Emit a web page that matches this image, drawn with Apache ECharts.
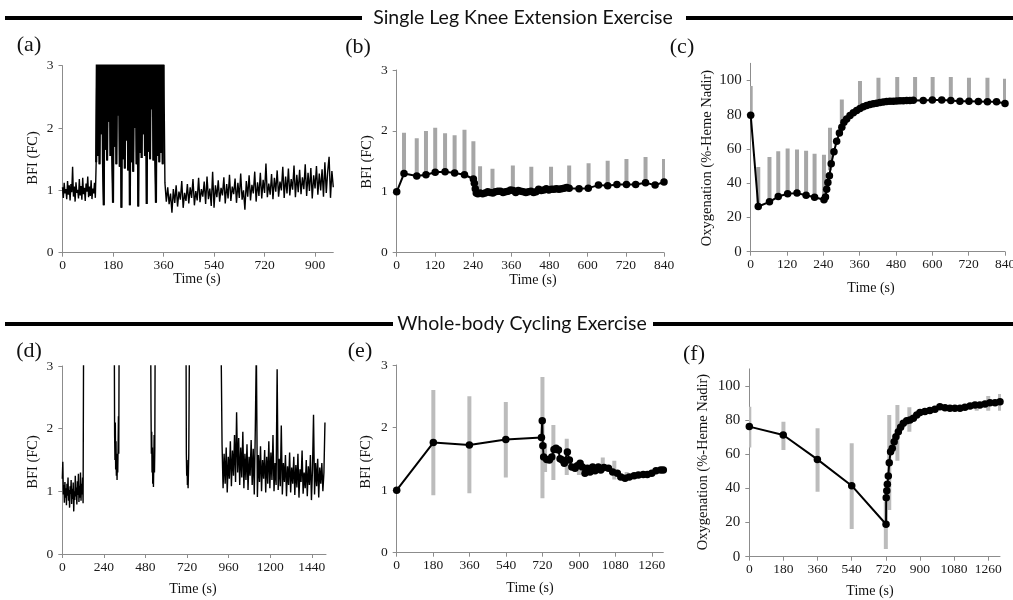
<!DOCTYPE html>
<html>
<head>
<meta charset="utf-8">
<script src="https://cdn.jsdelivr.net/npm/echarts@6/dist/echarts.min.js"></script>
<style>
  html, body { margin: 0; background: #fff; }
  #chart { width: 1013px; height: 600px; }
</style>
</head>
<body>
<div id="chart"></div>
<script>
// ---- tick labels ----
var ticksA = [0, 180, 360, 540, 720, 900];
var ticksB = [0, 120, 240, 360, 480, 600, 720, 840];
var ticksD = [0, 240, 480, 720, 960, 1200, 1440];
var ticksE = [0, 180, 360, 540, 720, 900, 1080, 1260];
var ticksBfi = [0, 1, 2, 3];
var ticksOxy = [0, 20, 40, 60, 80, 100];

// ---- (a) knee extension, raw BFI trace (sampled every few s) ----
var aRestStart = 0, aRestStep = 3;
var aRest = [1.05, 0.88, 1.12, 0.95, 1.02, 0.86, 1.15, 0.93, 1.08, 0.84,
  1.10, 0.97, 1.38, 0.90, 1.06, 0.82, 1.13, 0.96, 1.01, 0.87,
  1.18, 0.92, 1.07, 0.85, 1.20, 0.94, 1.04, 0.83, 1.11, 0.98,
  1.22, 0.89, 1.06, 0.91, 1.16, 0.86, 1.03, 0.95, 1.12, 0.88];
var aExStart = 120, aExStep = 3;
var aEx = [1.45, 3.5, 1.55, 3.5, 1.42, 3.5, 1.9, 3.5, 1.5, 0.76,
  3.5, 1.65, 3.5, 1.48, 3.5, 2.1, 3.5, 1.55, 3.5, 1.6,
  0.8, 3.5, 1.7, 3.5, 1.42, 3.5, 2.2, 3.5, 1.38, 3.5,
  0.72, 3.5, 1.5, 3.5, 1.35, 3.5, 1.8, 3.5, 1.32, 3.5,
  0.76, 3.5, 1.45, 3.5, 1.3, 3.5, 2.0, 3.5, 1.42, 3.5,
  0.74, 3.5, 1.6, 3.5, 1.52, 3.5, 1.9, 3.5, 1.55, 3.5,
  0.78, 3.5, 1.62, 3.5, 1.5, 3.5, 2.3, 3.5, 1.48, 3.5,
  1.7, 0.8, 3.5, 1.55, 3.5, 1.45, 3.5, 1.6, 3.5, 1.42,
  3.5];
var aRecStart = 365, aRecStep = 5;
var aRec = [1.12, 0.82, 1.05, 0.78, 0.95, 0.64, 1.02, 0.80,
  1.08, 0.74, 0.98, 0.85, 1.15, 0.72, 0.96, 0.83, 1.10, 0.79,
  1.05, 0.88, 1.18, 0.76, 0.99, 0.84, 1.20, 0.81, 1.02, 0.90,
  1.14, 0.78, 1.22, 0.86, 1.03, 0.75, 1.30, 0.72, 1.08, 0.89,
  1.16, 0.82, 1.04, 0.92, 1.21, 0.79, 1.10, 0.87, 1.25, 0.83,
  1.06, 0.94, 1.19, 0.80, 1.12, 0.88, 1.27, 0.85, 1.00, 0.69,
  1.15, 0.90, 1.24, 0.84, 1.09, 0.95, 1.30, 0.82, 1.13, 0.91,
  1.28, 0.87, 1.17, 0.96, 1.43, 0.89, 1.11, 0.93, 1.26, 0.86,
  1.20, 0.98, 1.32, 0.90, 1.14, 1.00, 1.38, 0.88, 1.22, 0.95,
  1.35, 0.92, 1.18, 1.01, 1.40, 0.89, 1.25, 0.97, 1.33, 0.94,
  1.21, 1.02, 1.42, 0.91, 1.28, 0.99, 1.36, 0.87, 1.24, 1.03,
  1.39, 0.93, 1.27, 1.00, 1.34, 0.90, 1.45, 0.96, 1.30, 1.54,
  0.88, 1.31, 1.05];

// ---- (b) knee extension, mean BFI ----
var bTime = [0, 23, 63, 92, 121, 152, 182, 213, 241, 244, 247, 250, 255, 262, 270, 278, 286, 294,
  302, 310, 318, 326, 334, 342, 350, 358, 366, 374, 382, 390, 398, 406, 414, 422, 430, 438,
  446, 454, 462, 470, 478, 486, 494, 502, 510, 518, 526, 534, 542, 573, 602, 634, 663, 692,
  722, 751, 782, 812, 840];
var bBfi = [1.0, 1.30, 1.26, 1.28, 1.32, 1.33, 1.31, 1.28, 1.21, 1.14, 1.05, 0.98, 0.97, 0.98, 0.97, 0.98, 1.0, 0.99,
  0.98, 1.0, 1.01, 1.01, 0.99, 1.0, 1.01, 1.03, 1.02, 0.99, 1.02, 1.01, 1.0, 0.99, 1.0, 1.01, 0.99, 1.0,
  1.04, 1.02, 1.03, 1.05, 1.03, 1.04, 1.04, 1.05, 1.04, 1.05, 1.06, 1.07, 1.06, 1.05, 1.06, 1.11, 1.10, 1.12,
  1.12, 1.12, 1.15, 1.11, 1.16];
var bErrTime = [23, 63, 92, 121, 152, 182, 213, 241, 262, 301, 365, 423, 485, 542, 603, 663, 722, 782, 840];
var bErrLow = [1.30, 1.26, 1.28, 1.32, 1.33, 1.31, 1.28, 1.21, 0.98, 0.98, 1.03, 1.0, 1.04, 1.06, 1.06, 1.10, 1.12, 1.15, 1.16];
var bErrHigh = [1.97, 1.88, 2.0, 2.05, 1.96, 1.93, 2.02, 1.83, 1.42, 1.38, 1.43, 1.41, 1.41, 1.43, 1.47, 1.51, 1.54, 1.57, 1.54];

// ---- (c) knee extension, oxygenation ----
var cTime = [0, 25, 62, 91, 122, 153, 183, 211, 242, 247, 251, 255, 260, 266, 275, 284, 293, 301, 308,
  317, 328, 339, 350, 361, 372, 383, 394, 405, 416, 427, 438, 449, 460, 471, 482, 493, 504, 515, 526,
  537, 570, 600, 631, 661, 691, 721, 752, 782, 812, 840];
var cOxy = [79.7, 26.4, 29.1, 32.2, 33.8, 34.2, 33.0, 31.8, 30.3, 32.0, 36.5, 40.4, 44.3, 51.4, 58.4, 64.5, 69.3, 72.7, 75.6,
  77.5, 79.5, 81.1, 82.4, 83.6, 84.6, 85.4, 85.9, 86.4, 86.7, 87.1, 87.4, 87.7, 87.8, 87.9, 88.0, 88.1, 88.2, 88.3, 88.3,
  88.4, 88.3, 88.5, 88.5, 88.3, 87.9, 87.9, 87.7, 87.5, 87.5, 86.5];
var cErrTime = [0, 25, 62, 91, 122, 153, 183, 211, 242, 262, 301, 361, 422, 484, 543, 601, 661, 721, 782, 840];
var cErrLow = [79.7, 26.4, 29.1, 32.2, 33.8, 34.2, 33.0, 31.8, 30.3, 47.5, 72.7, 83.6, 86.9, 88.0, 88.3, 88.5, 88.3, 87.9, 87.5, 86.5];
var cErrHigh = [96.7, 49.4, 55.3, 58.6, 60.2, 59.6, 59.0, 57.2, 56.6, 72.3, 88.9, 99.6, 101.6, 102, 102, 102, 102, 101.6, 101.6, 101];

// ---- (d) cycling, raw BFI trace ----
var dRestStart = 0, dRestStep = 3;
var dRest = [1.20, 1.47, 0.95, 1.10, 0.82, 1.15, 0.90, 1.05, 0.78, 1.12,
  0.93, 1.22, 0.85, 1.02, 0.74, 1.08, 0.96, 1.18, 0.80, 1.04,
  0.88, 1.14, 0.68, 1.00, 0.86, 1.25, 0.92, 1.06, 0.79, 1.16,
  0.94, 1.28, 0.83, 1.09, 0.90, 1.30, 0.85, 1.12, 0.95, 1.22, 0.81];
var dBurstTime = [123, 300, 302, 304, 306, 308, 310, 312, 314, 316, 318, 320, 322, 324, 326, 328,
  510, 512, 514, 516, 518, 520, 522, 524, 526, 528, 530, 532, 534, 536,
  714, 716, 718, 720, 722, 724, 726, 728, 730, 732, 734, 916];
var dBurstBfi = [3.5, 3.5, 1.9, 1.5, 2.1, 1.35, 1.8, 1.25, 1.6, 1.18, 1.5, 1.3, 1.7, 2.2, 1.6, 3.5,
  3.5, 2.3, 1.6, 1.95, 1.3, 1.7, 1.12, 1.55, 1.07, 1.4, 1.9, 1.3, 1.7, 3.5,
  3.5, 1.6, 1.25, 1.5, 1.1, 1.35, 1.05, 1.3, 1.6, 2.5, 3.5, 3.5];
var dLateStart = 922, dLateStep = 6;
var dLate = [1.75, 1.05, 1.6, 1.12, 1.7, 0.98, 1.55, 1.2, 1.8, 1.08,
  1.65, 1.25, 1.9, 1.15, 2.26, 1.3, 1.85, 1.1, 1.7, 1.22,
  1.95, 1.05, 1.6, 1.18, 1.75, 1.02, 1.55, 1.25, 1.82, 1.1,
  1.68, 0.95, 2.0, 3.3, 0.91, 1.58, 1.15, 1.72, 1.0, 1.5,
  1.2, 1.66, 0.98, 1.55, 1.12, 1.8, 1.05, 1.62, 1.18, 1.9,
  1.0, 1.45, 1.1, 2.95, 1.02, 1.52, 1.08, 2.05, 0.95, 1.45,
  1.15, 1.58, 0.92, 1.4, 1.1, 1.62, 0.98, 1.38, 1.12, 1.55,
  0.94, 1.42, 1.06, 1.6, 0.9, 1.35, 1.15, 1.65, 0.96, 1.3,
  1.05, 1.5, 0.92, 1.4, 1.1, 1.58, 0.86, 1.35, 2.22, 0.95,
  1.45, 1.08, 1.52, 0.9, 1.38, 1.12, 1.45, 1.0, 1.3, 2.1];

// ---- (e) cycling, mean BFI ----
var eTime = [0, 181, 359, 539, 715, 719, 722, 726, 741, 754, 766, 777, 787, 799, 807, 818, 828, 843,
  853, 865, 881, 892, 906, 917, 930, 942, 955, 968, 980, 996, 1008, 1024, 1046, 1067, 1090, 1107,
  1128, 1149, 1173, 1194, 1218, 1238, 1260, 1281, 1304, 1317];
var eBfi = [1.0, 1.76, 1.72, 1.81, 1.84, 2.11, 1.71, 1.53, 1.49, 1.48, 1.53, 1.65, 1.67, 1.64, 1.50, 1.48, 1.43, 1.61,
  1.48, 1.37, 1.35, 1.39, 1.43, 1.37, 1.27, 1.35, 1.29, 1.37, 1.31, 1.37, 1.32, 1.36, 1.35, 1.29, 1.27, 1.21,
  1.19, 1.21, 1.23, 1.24, 1.25, 1.25, 1.27, 1.31, 1.32, 1.32];
var eErrTime = [181, 359, 539, 720, 733, 774, 840, 900, 1018, 1075, 1136];
var eErrLow = [0.92, 0.95, 1.2, 0.87, 1.29, 1.16, 1.24, 1.24, 1.32, 1.17, 1.17];
var eErrHigh = [2.6, 2.5, 2.41, 2.81, 1.75, 2.04, 1.82, 1.45, 1.52, 1.47, 1.29];

// ---- (f) cycling, oxygenation ----
var fTime = [0, 179, 359, 540, 721, 722, 725, 728, 733, 738, 745, 754, 764, 773, 786, 798, 812, 830,
  847, 865, 883, 900, 926, 952, 979, 1005, 1032, 1058, 1084, 1111, 1137, 1164, 1190, 1216, 1243,
  1269, 1296, 1322];
var fOxy = [76.2, 71.3, 57.0, 41.6, 19.0, 34.6, 38.7, 42.4, 47.3, 55.1, 61.5, 63.5, 67.4, 70.3, 73.2, 75.8, 78.1, 79.7,
  80.1, 81.1, 83.0, 84.4, 85.0, 85.6, 86.3, 87.9, 87.3, 86.9, 86.9, 86.9, 87.5, 88.3, 88.9, 88.9, 89.5,
  90.2, 90.2, 90.8];
var fErrTime = [0, 180, 360, 540, 720, 738, 781, 844, 900, 1199, 1260, 1322];
var fErrLow = [64, 62.5, 38.1, 16.2, 4.5, 27.3, 56.2, 73.2, 84.9, 85.5, 85.5, 85.5];
var fErrHigh = [87.9, 79.1, 75.2, 66.4, 32.2, 83, 88.9, 87.5, 86.3, 90.8, 94.1, 95.3];

// ---- helpers ----
function sampled(start, step, vals) {
  return vals.map(function (v, i) { return [start + i * step, v]; });
}
function pairs(xs, ys) {
  return xs.map(function (x, i) { return [x, ys[i]]; });
}
function triples(xs, lo, hi) {
  return xs.map(function (x, i) { return [x, lo[i], hi[i]]; });
}

var serif = "'Liberation Serif', 'Times New Roman', Tinos, 'DejaVu Serif', serif";
var axisGrey = '#8c8c8c';

function plain(v) { return String(v); }

function xAxisOf(grid, max, ticks) {
  return {
    type: 'value', gridIndex: grid, min: 0, max: max,
    splitLine: { show: false },
    axisLine: { show: true, lineStyle: { color: axisGrey, width: 1 } },
    axisTick: { show: true, length: 4, customValues: ticks, lineStyle: { color: axisGrey } },
    axisLabel: { customValues: ticks, formatter: plain, fontFamily: serif, fontSize: 13.5, color: '#1a1a1a', margin: 6 }
  };
}
function yAxisOf(grid, max, ticks, fontSize) {
  return {
    type: 'value', gridIndex: grid, min: 0, max: max,
    splitLine: { show: false },
    axisLine: { show: true, lineStyle: { color: axisGrey, width: 1 } },
    axisTick: { show: true, length: 4, customValues: ticks, lineStyle: { color: axisGrey } },
    axisLabel: { customValues: ticks, formatter: plain, fontFamily: serif, fontSize: fontSize, color: '#1a1a1a', margin: 9 }
  };
}

function errRender(color) {
  return function (params, api) {
    var lo = api.coord([api.value(0), api.value(1)]);
    var hi = api.coord([api.value(0), api.value(2)]);
    return {
      type: 'rect',
      shape: { x: lo[0] - 2, y: hi[1], width: 4, height: lo[1] - hi[1] },
      style: { fill: color }
    };
  };
}

function traceSeries(idx, data, width) {
  return {
    type: 'line', xAxisIndex: idx, yAxisIndex: idx, data: data,
    showSymbol: false, clip: true, z: 3,
    lineStyle: { color: '#000', width: width }
  };
}
function meanSeries(idx, data) {
  return {
    type: 'line', xAxisIndex: idx, yAxisIndex: idx, data: data,
    symbol: 'circle', symbolSize: 7.5, clip: true, z: 3,
    itemStyle: { color: '#000' },
    lineStyle: { color: '#000', width: 2 }
  };
}
function errSeries(idx, data, color) {
  return {
    type: 'custom', xAxisIndex: idx, yAxisIndex: idx, data: data,
    renderItem: errRender(color), z: 2, clip: true
  };
}

function label(x, y, text, size, rot, family) {
  return {
    type: 'text', x: x, y: y, rotation: rot || 0, z: 10,
    style: {
      text: text, fontFamily: family || serif, fontSize: size, fill: '#111',
      align: 'center', verticalAlign: 'middle'
    }
  };
}
function rule(x1, x2, y) {
  return { type: 'line', z: 10, shape: { x1: x1, y1: y, x2: x2, y2: y }, style: { stroke: '#000', lineWidth: 4 } };
}

var aExData = sampled(aExStart, aExStep, aEx);
var aData = sampled(aRestStart, aRestStep, aRest)
  .concat(aExData)
  .concat(sampled(aRecStart, aRecStep, aRec));
var dData = sampled(dRestStart, dRestStep, dRest)
  .concat(pairs(dBurstTime, dBurstBfi))
  .concat(sampled(dLateStart, dLateStep, dLate));

var chart = echarts.init(document.getElementById('chart'), null, { renderer: 'canvas' });

var option = {
  animation: false,
  backgroundColor: '#fff',
  grid: [
    { left: 62.5, top: 65.7, width: 270.8, height: 187, outerBoundsMode: 'none' },
    { left: 396.7, top: 70, width: 267.3, height: 182.7, outerBoundsMode: 'none' },
    { left: 750.7, top: 63.3, width: 254.3, height: 188.4, outerBoundsMode: 'none' },
    { left: 62.3, top: 366, width: 263.7, height: 188, outerBoundsMode: 'none' },
    { left: 396.7, top: 365, width: 266.6, height: 187.7, outerBoundsMode: 'none' },
    { left: 749.3, top: 368.9, width: 250.7, height: 187.8, outerBoundsMode: 'none' }
  ],
  xAxis: [
    xAxisOf(0, 965, ticksA),
    xAxisOf(1, 840, ticksB),
    xAxisOf(2, 840, ticksB),
    xAxisOf(3, 1522, ticksD),
    xAxisOf(4, 1317, ticksE),
    xAxisOf(5, 1322, ticksE)
  ],
  yAxis: [
    yAxisOf(0, 3, ticksBfi, 13.5),
    yAxisOf(1, 3, ticksBfi, 13.5),
    yAxisOf(2, 110, ticksOxy, 15),
    yAxisOf(3, 3, ticksBfi, 13.5),
    yAxisOf(4, 3, ticksBfi, 13.5),
    yAxisOf(5, 110, ticksOxy, 15)
  ],
  series: [
    traceSeries(0, aData, 1.4),
    traceSeries(0, aExData, 2.2),
    errSeries(1, triples(bErrTime, bErrLow, bErrHigh), '#a6a6a6'),
    meanSeries(1, pairs(bTime, bBfi)),
    errSeries(2, triples(cErrTime, cErrLow, cErrHigh), '#a6a6a6'),
    meanSeries(2, pairs(cTime, cOxy)),
    traceSeries(3, dData, 1.4),
    errSeries(4, triples(eErrTime, eErrLow, eErrHigh), '#bcbcbc'),
    meanSeries(4, pairs(eTime, eBfi)),
    errSeries(5, triples(fErrTime, fErrLow, fErrHigh), '#bcbcbc'),
    meanSeries(5, pairs(fTime, fOxy))
  ],
  graphic: [
    rule(5, 362, 18),
    label(523, 18, 'Single Leg Knee Extension Exercise', 19.5, 0, 'Lato'),
    rule(686, 1013, 18),
    rule(5, 393, 324),
    label(522, 324, 'Whole-body Cycling Exercise', 19.5, 0, 'Lato'),
    rule(653, 1013, 324),

    label(29, 45, '(a)', 22),
    label(358, 47, '(b)', 22),
    label(682, 47, '(c)', 22),
    label(29, 351, '(d)', 22),
    label(360, 351, '(e)', 22),
    label(694, 354, '(f)', 22),

    label(33, 158, 'BFI (FC)', 14.5, Math.PI / 2),
    label(367, 162, 'BFI (FC)', 14.5, Math.PI / 2),
    label(706.7, 158, 'Oxygenation (%-Heme Nadir)', 14.5, Math.PI / 2),
    label(33, 462, 'BFI (FC)', 14.5, Math.PI / 2),
    label(366, 462, 'BFI (FC)', 14.5, Math.PI / 2),
    label(703, 462, 'Oxygenation (%-Heme Nadir)', 14.5, Math.PI / 2),

    label(197, 279, 'Time (s)', 14),
    label(533, 280, 'Time (s)', 14),
    label(871, 288, 'Time (s)', 14),
    label(193, 589, 'Time (s)', 14),
    label(530, 588, 'Time (s)', 14),
    label(870, 591, 'Time (s)', 14)
  ]
};

chart.setOption(option);
</script>
</body>
</html>
